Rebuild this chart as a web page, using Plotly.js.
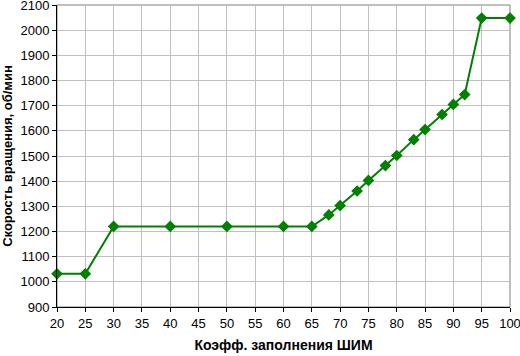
<!DOCTYPE html>
<html>
<head>
<meta charset="utf-8">
<script src="https://cdn.plot.ly/plotly-3.0.1.min.js"></script>
<style>html,body{margin:0;padding:0;background:#fff;}#chart{width:520px;height:356px;}</style>
</head>
<body>
<div id="chart"></div>
<script>
const pwm = [20, 25, 30, 40, 50, 60, 65, 68, 70, 73, 75, 78, 80, 83, 85, 88, 90, 92, 95, 100];
const rpm = [1032, 1032, 1220, 1220, 1220, 1220, 1220, 1266, 1303, 1361, 1403, 1462, 1502, 1565, 1605, 1665, 1705, 1744, 2048, 2048];
const xTitle = "Коэфф. заполнения ШИМ";
const yTitle = "Скорость вращения, об/мин";

const font = {family: "Liberation Sans, Arial, sans-serif", size: 13, color: "#000"};
Plotly.newPlot("chart", [{
  x: pwm, y: rpm, type: "scatter", mode: "lines+markers",
  line: {color: "#008000", width: 2},
  marker: {symbol: "diamond", size: 9, color: "#008000"},
  hoverinfo: "skip", cliponaxis: false
}], {
  width: 520, height: 356,
  margin: {l: 57, r: 10, t: 5, b: 49},
  paper_bgcolor: "#fff", plot_bgcolor: "#fff",
  font: font,
  showlegend: false,
  xaxis: {
    range: [20, 100], dtick: 5, tick0: 20,
    showgrid: true, gridcolor: "#c0c0c0", gridwidth: 1,
    showline: true, linecolor: "#000", linewidth: 1,
    ticks: "outside", ticklen: 4, tickcolor: "#000",
    zeroline: false, tickfont: font, ticklabeloverflow: "allow",
    title: {text: xTitle, font: {family: font.family, size: 14, color: "#000", weight: "bold"}, standoff: 10}
  },
  yaxis: {
    range: [900, 2100], dtick: 100, tick0: 900,
    showgrid: true, gridcolor: "#c0c0c0", gridwidth: 1,
    showline: true, linecolor: "#000", linewidth: 1,
    ticks: "outside", ticklen: 4, tickcolor: "#000",
    zeroline: false, tickfont: font, ticklabeloverflow: "allow",
    title: {text: yTitle, font: {family: font.family, size: 13, color: "#000", weight: "bold"}, standoff: 6}
  },
  shapes: [{type: "rect", xref: "paper", yref: "paper", x0: 0, x1: 1, y0: 0, y1: 1,
            line: {color: "#808080", width: 1}, layer: "below"}]
}, {displayModeBar: false, staticPlot: true});
</script>
</body>
</html>
